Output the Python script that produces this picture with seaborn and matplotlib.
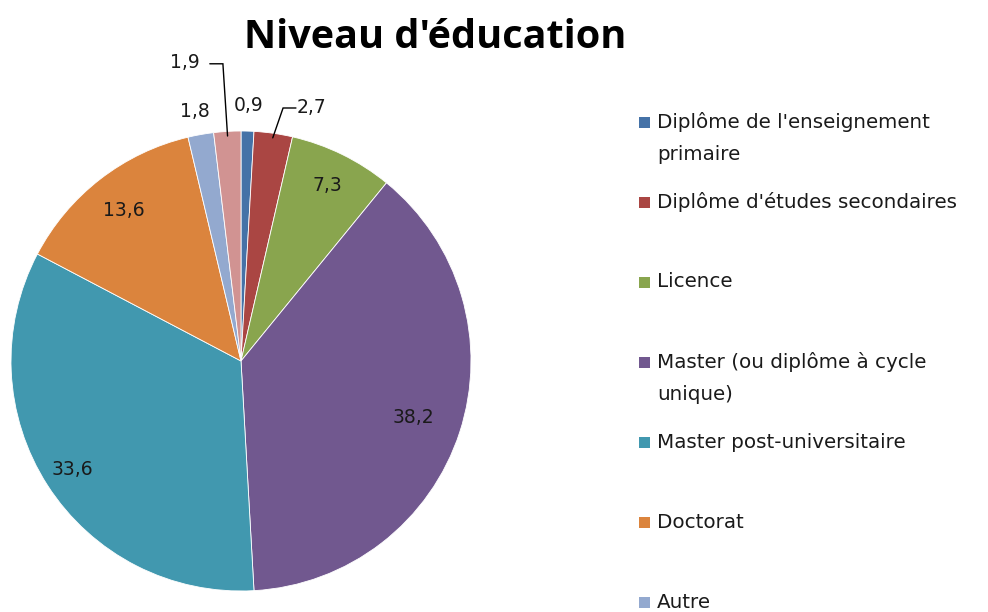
import numpy as np
import seaborn as sns
import matplotlib.pyplot as plt
from matplotlib.patches import Rectangle

# Data (percentages, clockwise from the top)
categories = ["Diplôme de l'enseignement\nprimaire",
              "Diplôme d'études secondaires",
              "Licence",
              "Master (ou diplôme à cycle\nunique)",
              "Master post-universitaire",
              "Doctorat",
              "Autre",
              ""]
values = [0.9, 2.7, 7.3, 38.2, 33.6, 13.6, 1.8, 1.9]
value_labels = ["0,9", "2,7", "7,3", "38,2", "33,6", "13,6", "1,8", "1,9"]
colors = ["#4572A7", "#AA4643", "#89A54E", "#71588F",
          "#4198AF", "#DB843D", "#93A9CF", "#D19392"]

sns.set_theme(style="white")
plt.rcParams['font.family'] = ['DejaVu Sans']

fig = plt.figure(figsize=(9.88, 6.12), dpi=100)
ax = fig.add_axes([0, 0, 1, 1])

R = 230.0  # pie radius in px
cx, cy = 241.0, 361.0  # pie centre in px (from top-left)

wedges, _ = ax.pie(values, colors=sns.color_palette(colors), startangle=90,
                   counterclock=False, radius=1.0,
                   wedgeprops=dict(edgecolor="white", linewidth=0.6))

ax.set_xlim(-cx / R, (988 - cx) / R)
ax.set_ylim((cy - 612) / R, cy / R)
ax.set_aspect('auto')
ax.axis('off')

# label placement: inside ones by radius factor, outside ones by offset
inside_r = {2: 0.85, 3: 0.79, 4: 0.87, 5: 0.83}
outside_off = {0: (0.006, 0.113), 1: (0.165, 0.114),
               6: (-0.025, 0.10), 7: (-0.185, 0.298)}
leaders = {1: (-0.123, -0.067), 7: (0.166, 0.109)}

for i, w in enumerate(wedges):
    mid = np.deg2rad((w.theta1 + w.theta2) / 2)
    ux, uy = np.cos(mid), np.sin(mid)
    if i in inside_r:
        r = inside_r[i]
        ax.text(ux * r, uy * r, value_labels[i], ha='center', va='center',
                fontsize=13.5, color='#1a1a1a')
    else:
        dx, dy = outside_off[i]
        lx, ly = ux + dx, uy + dy
        ax.text(lx, ly, value_labels[i], ha='center', va='center',
                fontsize=13.5, color='#1a1a1a')
        if i in leaders:
            ex, en = leaders[i]
            ax.plot([ux * 0.98, lx + ex, lx + en], [uy * 0.98, ly - 0.004, ly - 0.004],
                    color='black', lw=1.0, solid_joinstyle='miter')

fig.text(435 / 988, 1 - 38 / 612, "Niveau d'éducation", ha='center', va='center',
         fontsize=28.5, fontweight='bold', color='black',
         family=['Open Sans', 'DejaVu Sans'])

# legend drawn row by row
row_y = 122
for name, col in zip(categories, colors):
    if not name:
        continue
    lines = name.split("\n")
    fig.patches.append(Rectangle((639 / 988, 1 - (row_y + 6) / 612), 11 / 988, 11 / 612,
                                 transform=fig.transFigure, facecolor=col,
                                 edgecolor='none'))
    for k, ln in enumerate(lines):
        fig.text(657 / 988, 1 - (row_y + k * 33) / 612, ln, ha='left', va='center',
                 fontsize=14.3, color='#1a1a1a')
    row_y += 80

fig.savefig("out.png", dpi=100)
